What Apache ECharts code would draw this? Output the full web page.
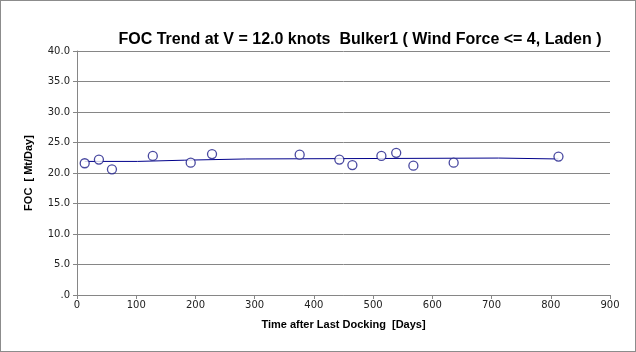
<!DOCTYPE html>
<html>
<head>
<meta charset="utf-8">
<script src="https://cdn.jsdelivr.net/npm/echarts@6/dist/echarts.min.js"></script>
<style>
    html, body { margin: 0; padding: 0; background: #ffffff; }
    #main {
        width: 634px;
        height: 350px;
        border: 1px solid #8c8c8c;
    }
</style>
</head>
<body>
<div id="main"></div>
<script>
    // measured points: days after docking / FOC
    var days = [13, 37, 59, 128, 192, 228, 376, 443, 465, 514, 539, 568, 636, 813];
    var foc = [21.6, 22.2, 20.6, 22.8, 21.7, 23.1, 23.0, 22.2, 21.3, 22.8, 23.3, 21.2, 21.7, 22.7];
    // stepped trend line
    var trendDays = [13, 102, 102, 181, 181, 284, 284, 712, 712, 813];
    var trendFoc = [21.9, 21.9, 22.1, 22.1, 22.3, 22.3, 22.45, 22.45, 22.3, 22.3];

    var chart = echarts.init(document.getElementById('main'));
    chart.setOption({
        animation: false,
        title: {
            text: 'FOC Trend at V = 12.0 knots  Bulker1 ( Wind Force <= 4, Laden )',
            left: 354,
            top: 26,
            textAlign: 'center',
            textStyle: {
                fontFamily: 'Liberation Sans',
                fontSize: 16,
                fontWeight: 'bold',
                color: '#000000'
            }
        },
        grid: {
            left: 76,
            right: 25,
            top: 50,
            bottom: 56
        },
        xAxis: {
            type: 'value',
            min: 0,
            max: 900,
            interval: 100,
            name: 'Time after Last Docking  [Days]',
            nameLocation: 'middle',
            nameGap: 24,
            nameTextStyle: {
                fontFamily: 'Liberation Sans',
                fontSize: 11,
                fontWeight: 'bold',
                color: '#000000'
            },
            axisLine: { lineStyle: { color: '#868686' } },
            axisTick: { show: true, length: 4, lineStyle: { color: '#868686' } },
            axisLabel: { fontFamily: 'DejaVu Sans', fontSize: 10, color: '#222222', margin: 5 },
            splitLine: { show: false }
        },
        yAxis: {
            type: 'value',
            min: 0,
            max: 40,
            interval: 5,
            name: 'FOC  [ Mt/Day]',
            nameLocation: 'middle',
            nameGap: 43,
            nameTextStyle: {
                fontFamily: 'Liberation Sans',
                fontSize: 11,
                fontWeight: 'bold',
                color: '#000000'
            },
            axisLine: { show: true, lineStyle: { color: '#868686' } },
            axisTick: { show: true, length: 4, lineStyle: { color: '#868686' } },
            axisLabel: {
                fontFamily: 'DejaVu Sans',
                fontSize: 10,
                color: '#222222',
                margin: 7,
                formatter: function (v) { return v === 0 ? '.0' : v.toFixed(1); }
            },
            splitLine: { show: true, lineStyle: { color: '#868686' } }
        },
        series: [
            {
                name: 'trend',
                type: 'line',
                data: trendDays.map(function (d, i) { return [d, trendFoc[i]]; }),
                showSymbol: false,
                lineStyle: { color: '#00008b', width: 1 },
                z: 2
            },
            {
                name: 'FOC',
                type: 'scatter',
                data: days.map(function (d, i) { return [d, foc[i]]; }),
                symbol: 'circle',
                symbolSize: 9,
                itemStyle: { color: '#ffffff', borderColor: '#1c1c88', borderWidth: 1.3 },
                z: 3
            }
        ]
    });
</script>
</body>
</html>
